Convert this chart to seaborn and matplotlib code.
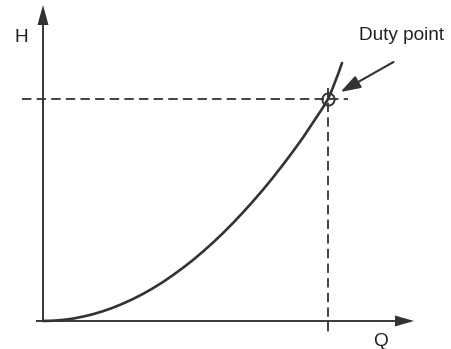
import matplotlib
matplotlib.use("Agg")
import matplotlib.pyplot as plt
import pandas as pd
import seaborn as sns

# System curve: head H against flow Q (arbitrary units, no scale shown)
flow_q = [0, 10, 20, 30, 40, 50, 60, 70, 80, 90, 100, 110, 120, 130, 140, 150,
          160, 170, 180, 190, 200, 210, 220, 230, 240, 250, 260, 267, 275, 280,
          285, 288.5, 292, 295.5, 299]
head_h = [0, 0.3, 1.1, 2.4, 4.4, 6.8, 9.8, 13.3, 17.4, 22, 27.1, 32.8, 39, 45.9,
          53.2, 61, 69.5, 78.4, 87.9, 98, 108.6, 119.7, 131.3, 143.5, 156.3,
          169.6, 183.4, 194, 206, 213.5, 222, 230, 239, 248, 258]

# Operating (duty) point on the curve
duty_q = 285.5
duty_h = 222

axis_labels = ["Q", "H"]
duty_label = "Duty point"

sns.set_theme(style="white")
plt.rcParams["font.family"] = ["Liberation Sans", "DejaVu Sans"]

ink = "#333333"

fig = plt.figure(figsize=(4.52, 3.49), dpi=100)
ax = fig.add_axes([0, 0, 1, 1])
ax.set_xlim(-43, 409)
ax.set_ylim(-28, 321)
ax.axis("off")

# Axes drawn as arrows from the origin
ax.arrow(-7, 0, 378, 0, width=1.9, head_width=11, head_length=19,
         length_includes_head=True, color=ink, lw=0)
ax.arrow(0, 0, 0, 316, width=1.9, head_width=11, head_length=20,
         length_includes_head=True, color=ink, lw=0)

# Dashed guide lines through the duty point
dash = (0, (5.2, 2.9))
ax.plot([-21, duty_q + 20], [duty_h, duty_h], color=ink, lw=1.3, ls=dash)
ax.plot([duty_q, duty_q], [duty_h + 11, -15], color=ink, lw=1.3, ls=dash)

# System curve
curve = pd.DataFrame({"Q": flow_q, "H": head_h})
sns.lineplot(data=curve, x="Q", y="H", ax=ax, color=ink, lw=1.9,
             sort=False, estimator=None)

# Duty point marker
ax.plot([duty_q], [duty_h], marker="o", ms=8.8, mfc="none", mec=ink, mew=1.4)

# Callout for the duty point
ax.annotate("", xy=(duty_q + 12, duty_h + 7), xytext=(duty_q + 65, duty_h + 37),
            arrowprops=dict(arrowstyle="-|>,head_length=1.2,head_width=0.4",
                            color=ink, lw=1.5, shrinkA=0, shrinkB=0,
                            mutation_scale=10))
ax.text(316, 281, duty_label, fontsize=13.7, color="#222222",
        ha="left", va="baseline")

ax.text(338, -21, axis_labels[0], fontsize=13.7, color="#222222",
        ha="center", va="center")
ax.text(-22, 283, axis_labels[1], fontsize=13.7, color="#222222",
        ha="center", va="center")

fig.savefig("out.png", dpi=100)
